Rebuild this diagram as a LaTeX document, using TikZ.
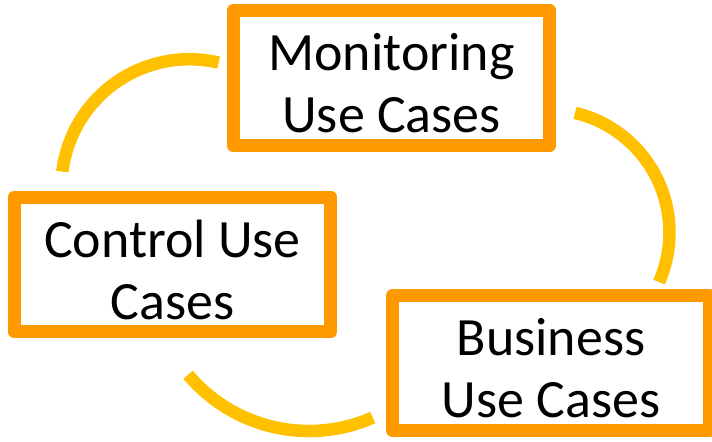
\documentclass[tikz,border=0pt]{standalone}
\usepackage{fontspec}
\setmainfont{Carlito}
\definecolor{boxorange}{HTML}{FF9900}
\definecolor{arcgold}{HTML}{FFC000}
\begin{document}
\begin{tikzpicture}[x=0.02cm,y=0.02cm,line join=round,
		usecase/.style={draw=boxorange,line width=0.26cm,minimum width=6.34cm,minimum height=2.7cm,inner sep=0pt},
		usetext/.style={align=center,inner sep=0pt,yshift=-2.9pt,font=\fontsize{30.7}{35.3}\selectfont},
		cyclearc/.style={draw=arcgold,line width=0.25cm,line cap=butt}]
		\useasboundingbox (0,0) rectangle (712,441);
		\node[usecase,label={[usetext]center:{Monitoring\\Use Cases}}] (mon) at (391.5,363) {};
		\node[usecase,label={[usetext]center:{Control Use\\Cases}}] (ctl) at (172.5,176.5) {};
		\node[usecase,label={[usetext]center:{Business\\Use Cases}}] (bus) at (551,78) {};
		\coordinate (o1) at (189.4,253.8);
		\coordinate (o2) at (546.5,208.5);
		\coordinate (o3) at (309,168);
		\draw[cyclearc] (o1) ++(173:128) arc[start angle=173,end angle=76.8,radius=128];
		\draw[cyclearc] (o2) ++(76.6:123) arc[start angle=76.6,end angle=-23.75,radius=123];
		\draw[cyclearc] (o3) ++(220.1:158) arc[start angle=220.1,end angle=293.8,radius=158];
		\end{tikzpicture}
\end{document}
